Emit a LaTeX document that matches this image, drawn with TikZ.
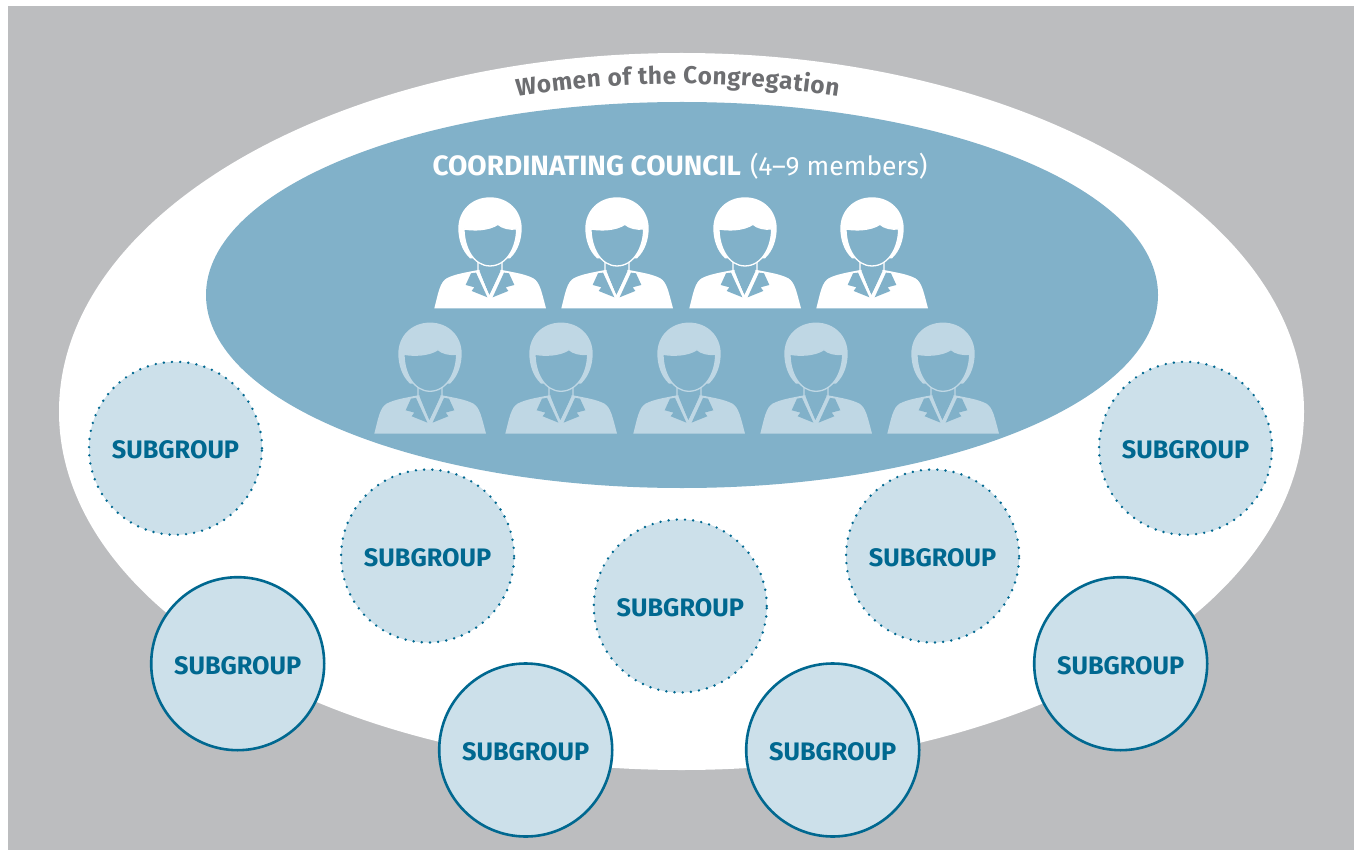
\documentclass[tikz,border=0pt]{standalone}
\usepackage{fontspec}
\setmainfont{Fira Sans}
\usetikzlibrary{decorations.text,shapes.geometric}
\definecolor{bggray}{HTML}{BCBDBF}
\definecolor{council}{HTML}{81B1C9}
\definecolor{pale}{HTML}{CCE0EA}
\definecolor{ghost}{HTML}{BFD7E4}
\definecolor{deep}{HTML}{006890}
\definecolor{graytext}{HTML}{6D6E71}
\tikzset{
  sub/.style={circle,minimum size=173pt,inner sep=0pt,fill=pale,text=deep,
    text height=21pt,text depth=0pt,
    font=\fontsize{25.3}{25.3}\selectfont\bfseries},
  subsolid/.style={sub,draw=deep,line width=2.6pt},
  subdot/.style={sub,draw=deep,line width=2.7pt,line cap=round,dash pattern=on 0pt off 8.2pt},
  oval/.style={ellipse,inner sep=0pt,draw=none},
}
% #1 x-centre, #2 top y, #3 figure colour
\newcommand{\personicon}[3]{%
\begin{scope}[shift={(#1,#2)},x=0.3333pt,y=-0.3333pt]
  \fill[#3] (-167,333) .. controls (-155,285) and (-150,255) .. (-130,243)
     .. controls (-105,230) and (-70,225) .. (-35,218)
     -- (35,218) .. controls (70,225) and (105,230) .. (130,243)
     .. controls (150,255) and (155,285) .. (168,333) -- cycle;
  \fill[council] (-31,190) -- (-31,222) -- (-2,295) -- (31,222) -- (31,190) -- cycle;
  \fill[council] (-57,228) -- (-73,263) -- (-47,270) -- (-55,281) -- (-8,300) -- (-42,226) -- cycle;
  \fill[council] (57,228) -- (73,263) -- (47,270) -- (55,281) -- (8,300) -- (42,226) -- cycle;
  \draw[#3,line width=1.3pt,line join=miter] (-36,190) -- (-36,222) -- (-2,298) -- (36,222) -- (36,190);
  \fill[#3] (-60,183) .. controls (-85,160) and (-95,125) .. (-95,93)
     .. controls (-95,40) and (-55,0) .. (0,0)
     .. controls (55,0) and (95,40) .. (95,93)
     .. controls (95,125) and (85,160) .. (60,183)
     -- cycle;
  \fill[council,draw=#3,line width=1.3pt] (-78,95)
     .. controls (-50,100) and (-5,100) .. (24,81)
     .. controls (35,92) and (60,98) .. (80,95)
     .. controls (80,150) and (50,206) .. (0,206)
     .. controls (-50,206) and (-78,150) .. (-78,95) -- cycle;
\end{scope}}
\begin{document}
\begin{tikzpicture}[x=1pt,y=-1pt]
\useasboundingbox (0,0) rectangle (1354,850);
\fill[white] (0,0) rectangle (1354,850);
\fill[bggray] (8,6) rectangle (1354,850);
\node[oval,fill=white,minimum width=1245pt,minimum height=717pt] (women) at (681.5,411.5) {};
\node[oval,fill=council,minimum width=952pt,minimum height=386pt] (councilbox) at (682,295) {};
\path[postaction={decorate,decoration={text along path,text align={fit to path},
   text={|\fontsize{24.3}{24.3}\selectfont\bfseries\color{graytext}|Women of the Congregation}}}]
   (517,96.5) .. controls (625,79.8) and (730,79.8) .. (838,96.5);
\node[anchor=base,text=white,inner sep=0pt] (ctitle) at (680,176)
   {\fontsize{28}{28}\selectfont\textbf{COORDINATING COUNCIL}\hspace{9pt}\fontsize{26.5}{26.5}\selectfont(4–9 members)};
\foreach \x in {490,617,745,872} {\personicon{\x}{197.3}{white}}
\foreach \x in {430,561,689,816,943} {\personicon{\x}{322.6}{ghost}}
\node[subdot] (d1) at (175.5,448.3) {SUBGROUP};
\node[subdot] (d2) at (427.6,556) {SUBGROUP};
\node[subdot] (d3) at (680.3,606) {SUBGROUP};
\node[subdot] (d4) at (932.6,556) {SUBGROUP};
\node[subdot] (d5) at (1185.5,448.3) {SUBGROUP};
\node[subsolid] (s1) at (237.7,663.7) {SUBGROUP};
\node[subsolid] (s2) at (525.7,750) {SUBGROUP};
\node[subsolid] (s3) at (832.7,750) {SUBGROUP};
\node[subsolid] (s4) at (1120.7,663.7) {SUBGROUP};
\end{tikzpicture}
\end{document}
